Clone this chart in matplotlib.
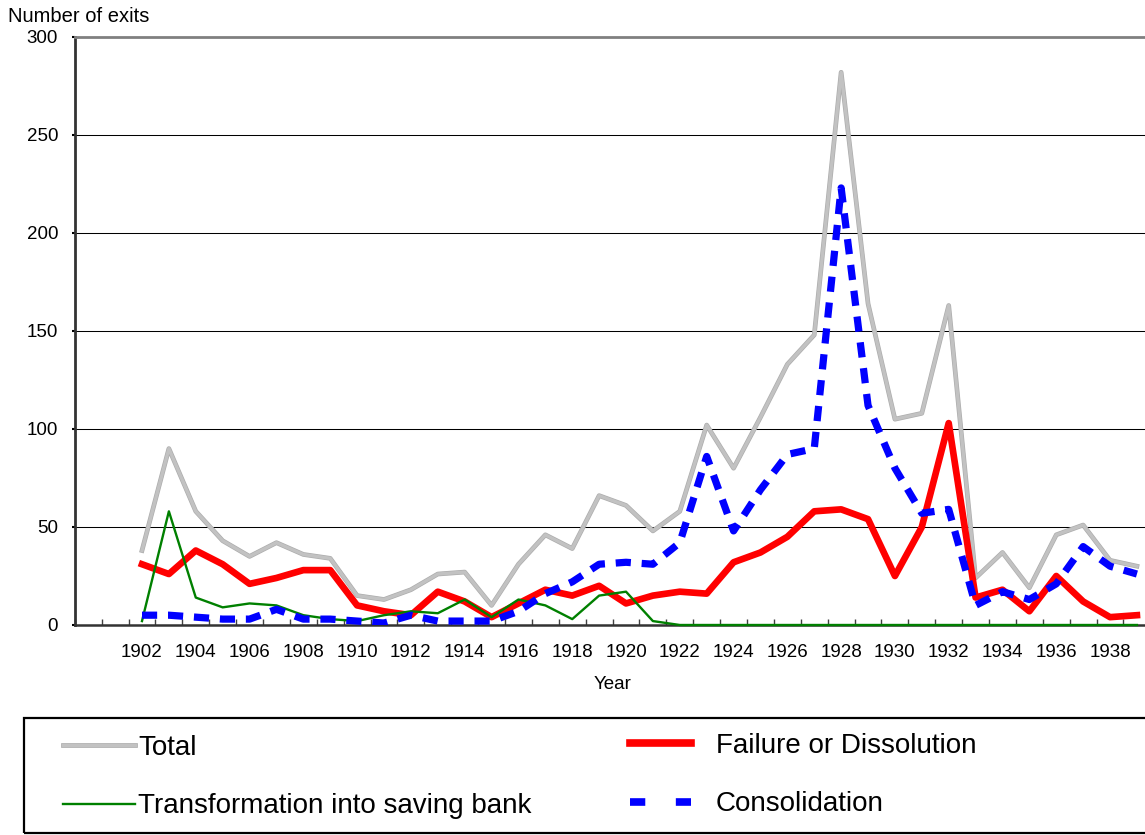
import matplotlib
matplotlib.use('Agg')
import matplotlib.pyplot as plt
import matplotlib.patheffects as pe
from matplotlib.lines import Line2D
from matplotlib.patches import Rectangle
from matplotlib.ticker import MultipleLocator

plt.rcParams['font.family'] = ['Liberation Sans', 'DejaVu Sans']

years = list(range(1902, 1940))
total = [38, 90, 58, 43, 35, 42, 36, 34, 15, 13, 18, 26, 27, 10, 31, 46, 39, 66, 61, 48,
         58, 102, 80, 106, 133, 148, 282, 164, 105, 108, 163, 24, 37, 19, 46, 51, 33, 30]
failure = [31, 26, 38, 31, 21, 24, 28, 28, 10, 7, 5, 17, 12, 4, 11, 18, 15, 20, 11, 15,
           17, 16, 32, 37, 45, 58, 59, 54, 25, 50, 103, 14, 18, 7, 25, 12, 4, 5]
saving_bank = [2, 58, 14, 9, 11, 10, 5, 3, 2, 5, 7, 6, 13, 4, 13, 10, 3, 15, 17, 2,
               0, 0, 0, 0, 0, 0, 0, 0, 0, 0, 0, 0, 0, 0, 0, 0, 0, 0]
consolidation = [5, 5, 4, 3, 3, 8, 3, 3, 2, 1, 5, 2, 2, 2, 7, 16, 22, 31, 32, 31,
                 42, 86, 48, 69, 87, 90, 223, 112, 80, 57, 59, 10, 17, 13, 21, 40, 30, 26]
tick_years = list(range(1902, 1940, 2))
y_ticks = [0, 50, 100, 150, 200, 250, 300]

fig = plt.figure(figsize=(11.45, 8.35), dpi=100)
ax = fig.add_axes([0.0653, 0.2515, 0.9394, 0.7042])

# grey total line, a faint darker edge gives it the striped excel look
grey_fx = [pe.Stroke(linewidth=3.4, foreground='#ADADAD'), pe.Normal()]
ax.plot(years, total, color='#C2C2C2', lw=2.4, path_effects=grey_fx, zorder=3)
ax.plot(years, failure, color='#FF0000', lw=4.8, zorder=4)
ax.plot(years, saving_bank, color='#008000', lw=1.7, zorder=5, clip_on=False)
ax.plot(years, consolidation, color='#0000FF', lw=5.2, dashes=(2.1, 1.5), zorder=6)

ax.set_xlim(1899.5, 1939.5)
ax.set_ylim(0, 300)
ax.set_yticks(y_ticks)
ax.set_xticks(tick_years)
ax.xaxis.set_minor_locator(MultipleLocator(1, offset=0.5))
ax.tick_params(axis='x', which='major', length=0, pad=13.5, labelsize=13.5)
ax.tick_params(axis='x', which='minor', direction='in', length=4.3, width=1, color='#404040')
ax.tick_params(axis='y', direction='out', length=2.5, width=1.5, pad=9.5, labelsize=13.5)
ax.grid(axis='y', color='black', lw=0.75, zorder=1)
ax.set_axisbelow(True)

ax.spines['right'].set_visible(False)
ax.spines['top'].set_color('#808080')
ax.spines['top'].set_linewidth(2)
ax.spines['left'].set_color('#333333')
ax.spines['left'].set_linewidth(2)
ax.spines['bottom'].set_color('#333333')
ax.spines['bottom'].set_linewidth(1.8)

ax.set_xlabel('Year', fontsize=13.5, labelpad=11)
fig.text(8 / 1145, 1 - 17 / 835, 'Number of exits', fontsize=14.5, va='center', ha='left')

# legend box drawn separately, two frameless columns inside it
fig.patches.append(Rectangle((24 / 1145, 2 / 835), 1130 / 1145, 115 / 835,
                             transform=fig.transFigure, fill=False,
                             edgecolor='black', lw=1.6))
h_total = Line2D([], [], color='#C2C2C2', lw=2.4, path_effects=grey_fx)
h_saving = Line2D([], [], color='#008000', lw=1.7)
h_fail = Line2D([], [], color='#FF0000', lw=5.5)
h_cons = Line2D([], [], color='#0000FF', lw=5.5, dashes=(2.0, 4.0))
leg1 = fig.legend([h_total, h_saving], ['Total', 'Transformation into saving bank'],
                  loc='center left', bbox_to_anchor=(63 / 1145, 1 - 777 / 835),
                  frameon=False, fontsize=20, handlelength=2.6, handletextpad=0.1,
                  labelspacing=1.17, borderpad=0, borderaxespad=0)
leg2 = fig.legend([h_fail, h_cons], ['Failure or Dissolution', 'Consolidation'],
                  loc='center left', bbox_to_anchor=(630 / 1145, 1 - 775 / 835),
                  frameon=False, fontsize=20, handlelength=2.2, handletextpad=0.9,
                  labelspacing=1.17, borderpad=0, borderaxespad=0)

fig.savefig('out.png', dpi=100)
